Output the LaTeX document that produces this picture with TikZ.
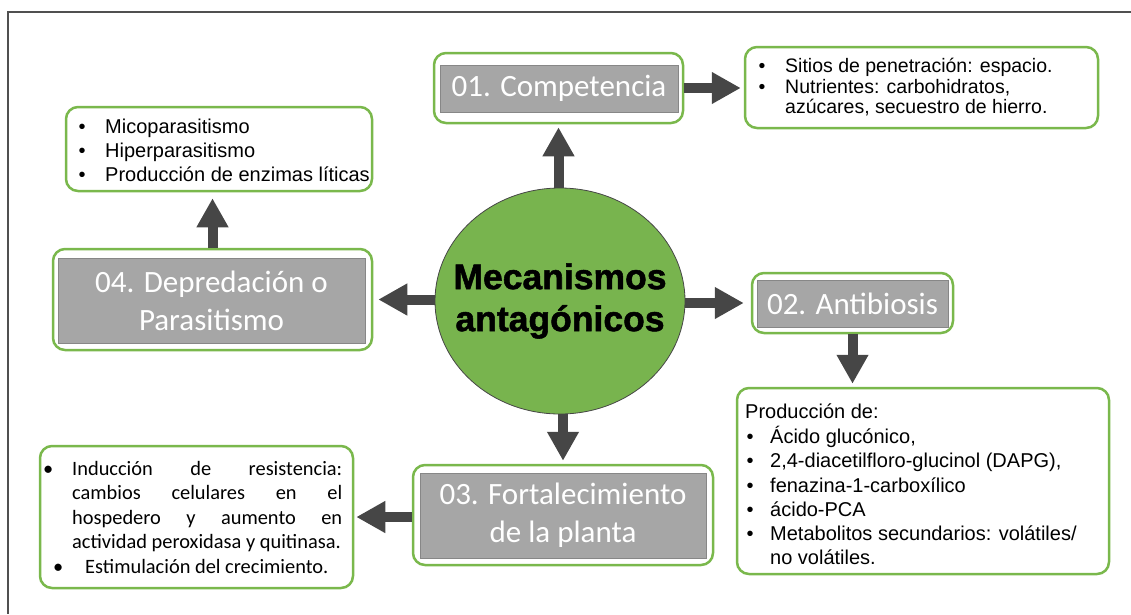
\documentclass[tikz,border=0pt]{standalone}
\usepackage{fontspec}
\setmainfont{Liberation Sans}
\newfontfamily\calib{Carlito}
\newfontfamily\heavyfont[FakeBold=1.5]{Liberation Sans Bold}
\usetikzlibrary{shapes.geometric,arrows.meta,calc}
\definecolor{gborder}{RGB}{122,184,76}
\definecolor{gfill}{RGB}{120,180,78}
\definecolor{tgray}{RGB}{166,166,166}
\definecolor{tgrayd}{RGB}{135,135,135}
\definecolor{agray}{RGB}{70,70,70}
\definecolor{framegray}{RGB}{80,80,80}
\newcommand\blt[1]{\makebox[#1][l]{•}}
\begin{document}
\begin{tikzpicture}[x=1pt,y=-1pt,
  gbox/.style={draw=gborder, line width=2.5pt, rounded corners=12pt, fill=white, inner sep=0},
  tbox/.style={draw=tgrayd, line width=0.8pt, fill=tgray, text=white, font=\calib\fontsize{31}{38}\selectfont, align=center, inner sep=0},
  listtxt/.style={anchor=north west, inner sep=0, align=left},
  bigarrow/.style={draw=agray, line width=10pt, -{Triangle[length=29pt,width=30pt]}}
]
\useasboundingbox (0,0) rectangle (1131,614);
\draw[framegray, line width=1.5pt] (1131,12) -- (8,12) -- (8,614);

% central ellipse
\node[ellipse, draw=agray, line width=0.8pt, fill=gfill, minimum width=250pt, minimum height=226pt, inner sep=0] (ell) at (560,301) {};
\node[align=center, inner sep=0, font=\heavyfont\fontsize{35.5}{42}\selectfont] (ellt) at (ell.center) {Mecanismos\\antagónicos};

% 01 Competencia
\node[gbox, minimum width=249pt, minimum height=70pt] (comp) at (558.5,88) {};
\node[tbox, minimum width=238pt, minimum height=47pt] (compt) at (559,88.5) {01. Competencia};
\node[gbox, minimum width=353pt, minimum height=81pt] (complist) at (921.5,87.5) {};
\node[listtxt, font=\fontsize{19.5}{20}\selectfont] (complistt) at (758.5,58) {\strut\blt{26.5pt}Sitios de penetración: espacio.\\ \blt{26.5pt}Nutrientes: carbohidratos,\\ \hspace*{26.5pt}azúcares, secuestro de hierro.\strut};

% 04 Depredacion
\node[gbox, minimum width=319pt, minimum height=101pt] (dep) at (212.5,299.5) {};
\node[tbox, minimum width=307pt, minimum height=85pt] (dept) at (211.5,300.5) {04. Depredación o\\Parasitismo};
\node[gbox, minimum width=306pt, minimum height=84pt] (mico) at (219,149) {};
\node[listtxt, font=\fontsize{20}{24}\selectfont] (micot) at (78.5,116) {\strut\blt{26.5pt}Micoparasitismo\\ \blt{26.5pt}Hiperparasitismo\\ \blt{26.5pt}Producción de enzimas líticas\strut};

% 02 Antibiosis
\node[gbox, minimum width=201pt, minimum height=60pt] (anti) at (852.5,303) {};
\node[tbox, minimum width=191pt, minimum height=47pt] (antit) at (852.5,303.5) {02. Antibiosis};
\node[gbox, minimum width=372pt, minimum height=186pt] (prod) at (923,481) {};
\node[listtxt, font=\fontsize{20}{24.2}\selectfont] (prodt) at (745,401) {\strut Producción de:\\
\hspace*{1.5pt}\blt{23.5pt}Ácido glucónico,\\
\hspace*{1.5pt}\blt{23.5pt}2,4-diacetilfloro-glucinol (DAPG),\\
\hspace*{1.5pt}\blt{23.5pt}fenazina-1-carboxílico\\
\hspace*{1.5pt}\blt{23.5pt}ácido-PCA\\
\hspace*{1.5pt}\blt{23.5pt}Metabolitos secundarios: volátiles/\\
\hspace*{25pt}no volátiles.\strut};

% 03 Fortalecimiento
\node[gbox, minimum width=300pt, minimum height=100pt] (fort) at (563,515) {};
\node[tbox, minimum width=286pt, minimum height=85pt] (fortt) at (563,515.5) {03. Fortalecimiento\\de la planta};
\node[gbox, minimum width=313pt, minimum height=142pt] (indu) at (196.5,517) {};
\node[listtxt, font=\calib\fontsize{20.4}{24.5}\selectfont] (indut) at (43,458) {\strut\blt{29pt}\makebox[270pt][s]{Inducción de resistencia:}\\
\hspace*{29pt}\makebox[270pt][s]{cambios celulares en el}\\
\hspace*{29pt}\makebox[270pt][s]{hospedero y aumento en}\\
\hspace*{29pt}actividad peroxidasa y quitinasa.\\
\hspace*{10pt}\blt{32pt}Estimulación del crecimiento.\strut};

% arrows
\draw[bigarrow, shorten >=3pt] (comp.south |- ell.north) -- (comp.south);
\draw[bigarrow, shorten >=3pt] (comp.east) -- (comp.east -| complist.west);
\draw[bigarrow, shorten >=7pt] (ell.east |- anti.west) -- (anti.west);
\draw[bigarrow, shorten >=3pt] (anti.south) -- (anti.south |- prod.north);
\draw[bigarrow, shorten >=3pt] (fort.north |- ell.south) -- (fort.north);
\draw[bigarrow, shorten >=2pt] (fort.west |- indu.east) -- (indu.east);
\draw[bigarrow, shorten >=5pt] (dep.east -| ell.west) -- (dep.east);
\draw[bigarrow, shorten >=6pt] (dep.north) -- (dep.north |- mico.south);
\end{tikzpicture}
\end{document}
